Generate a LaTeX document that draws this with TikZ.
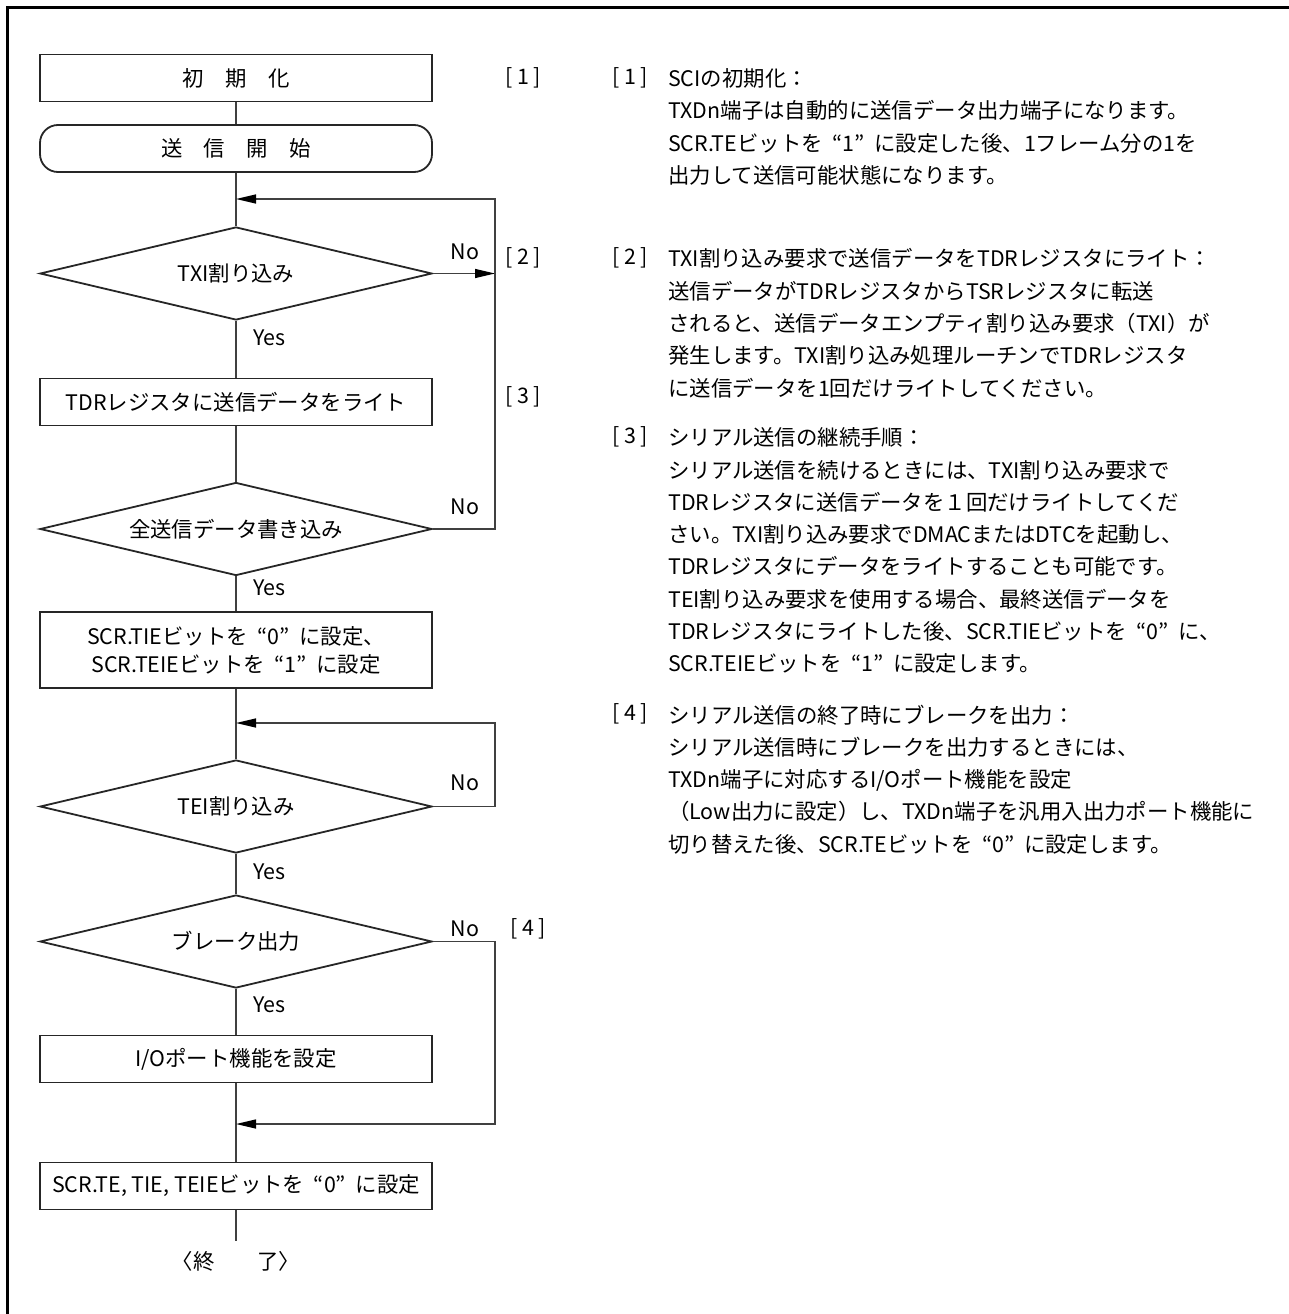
\documentclass[tikz,border=0pt]{standalone}
\usepackage{fontspec}
\setmainfont{Noto Sans CJK JP}
\usetikzlibrary{arrows.meta, positioning, shapes.geometric}

\newcommand{\qv}[1]{\hspace{0.45em}“#1”\hspace{0.45em}}

\begin{document}
\begin{tikzpicture}[
    x=1pt, y=-1pt,
    every node/.style={font=\fontsize{21.4pt}{28pt}\selectfont, inner sep=0pt},
    proc/.style={draw=black!85, line width=1.8pt, rectangle, minimum width=392pt, minimum height=47pt, align=center},
    term/.style={proc, rounded corners=18pt},
    test/.style={draw=black!85, line width=1.8pt, diamond, aspect=4.2, minimum width=392pt, minimum height=93pt},
    flow/.style={draw=black!75, line width=1.3pt},
    back/.style={flow, -{Triangle[length=20pt, width=9pt, black]}},
    tag/.style={anchor=west},
    note/.style={anchor=north west, align=left, font=\fontsize{21.4pt}{32.3pt}\selectfont},
  ]
    \useasboundingbox (0,0) rectangle (1289,1314);
    \draw[line width=3pt] (7.5,1314) -- (7.5,7.5) -- (1289,7.5);

    % flow chart
    \node[proc] (init) at (236,78) {初　期　化};
    \node[term] (start) at (236,148.5) {送　信　開　始};
    \node[test] (txi) at (236,273.5) {TXI割り込み};
    \node[proc] (tdr) at (236,402) {TDRレジスタに送信データをライト};
    \node[test] (all) at (236,529) {全送信データ書き込み};
    \node[proc, minimum height=76pt] (dis) at (236,650) {SCR.TIEビットを\qv{0}に設定、\\SCR.TEIEビットを\qv{1}に設定};
    \node[test] (tei) at (236,806.5) {TEI割り込み};
    \node[test] (brk) at (236,941.5) {ブレーク出力};
    \node[proc] (port) at (236,1059) {I/Oポート機能を設定};
    \node[proc] (stop) at (236,1186) {SCR.TE, TIE, TEIEビットを\qv{0}に設定};
    \node (done) at (236,1261) {〈終　　了〉};
    \coordinate (tail) at (236,1241);

    \draw[flow] (init) -- (start);
    \draw[flow] (start) -- (txi);
    \draw[flow] (txi) -- (tdr);
    \draw[flow] (tdr) -- (all);
    \draw[flow] (all) -- (dis);
    \draw[flow] (dis) -- (tei);
    \draw[flow] (tei) -- (brk);
    \draw[flow] (brk) -- (port);
    \draw[flow] (port) -- (stop);
    \draw[flow] (stop) -- (tail);

    % loops back
    \coordinate (m1) at (236,199);
    \coordinate (c1) at (495,199);
    \coordinate (m2) at (236,723);
    \coordinate (c2) at (495,723);
    \coordinate (m3) at (236,1124);
    \coordinate (c3) at (495,1124);
    \draw[back] (txi.east) -- (txi.east -| c1);
    \draw[back] (all.east) -| (c1) -- (m1);
    \draw[back] (tei.east) -| (c2) -- (m2);
    \draw[back] (brk.east) -| (c3) -- (m3);

    \node[tag] (yes1) at (253,338) {Yes};
    \node[tag] (yes2) at (253,588) {Yes};
    \node[tag] (yes3) at (253,872) {Yes};
    \node[tag] (yes4) at (253,1005) {Yes};
    \node (no1) at (465,252) {No};
    \node (no2) at (465,507) {No};
    \node (no3) at (465,783) {No};
    \node (no4) at (465,929) {No};
    \node (f1) at (523,78) {[ 1 ]};
    \node (f2) at (523,258) {[ 2 ]};
    \node (f3) at (523,397) {[ 3 ]};
    \node (f4) at (528,929) {[ 4 ]};

    % notes
    \node[tag] (k1) at (612,78) {[ 1 ]};
    \node[note] (t1) at (668,68.5) {SCIの初期化：\\
      TXDn端子は自動的に送信データ出力端子になります。\\
      SCR.TEビットを\qv{1}に設定した後、1フレーム分の1を\\
      出力して送信可能状態になります。};
    \node[tag] (k2) at (612,258) {[ 2 ]};
    \node[note] (t2) at (668,248.5) {TXI割り込み要求で送信データをTDRレジスタにライト：\\
      送信データがTDRレジスタからTSRレジスタに転送\\
      されると、送信データエンプティ割り込み要求（TXI）が\\
      発生します。TXI割り込み処理ルーチンでTDRレジスタ\\
      に送信データを1回だけライトしてください。};
    \node[tag] (k3) at (612,437) {[ 3 ]};
    \node[note] (t3) at (668,427.5) {シリアル送信の継続手順：\\
      シリアル送信を続けるときには、TXI割り込み要求で\\
      TDRレジスタに送信データを１回だけライトしてくだ\\
      さい。TXI割り込み要求でDMACまたはDTCを起動し、\\
      TDRレジスタにデータをライトすることも可能です。\\
      TEI割り込み要求を使用する場合、最終送信データを\\
      TDRレジスタにライトした後、SCR.TIEビットを\qv{0}に、\\
      SCR.TEIEビットを\qv{1}に設定します。};
    \node[tag] (k4) at (612,714) {[ 4 ]};
    \node[note] (t4) at (668,704.5) {シリアル送信の終了時にブレークを出力：\\
      シリアル送信時にブレークを出力するときには、\\
      TXDn端子に対応するI/Oポート機能を設定\\
      （Low出力に設定）し、TXDn端子を汎用入出力ポート機能に\\
      切り替えた後、SCR.TEビットを\qv{0}に設定します。};
\end{tikzpicture}
\end{document}
